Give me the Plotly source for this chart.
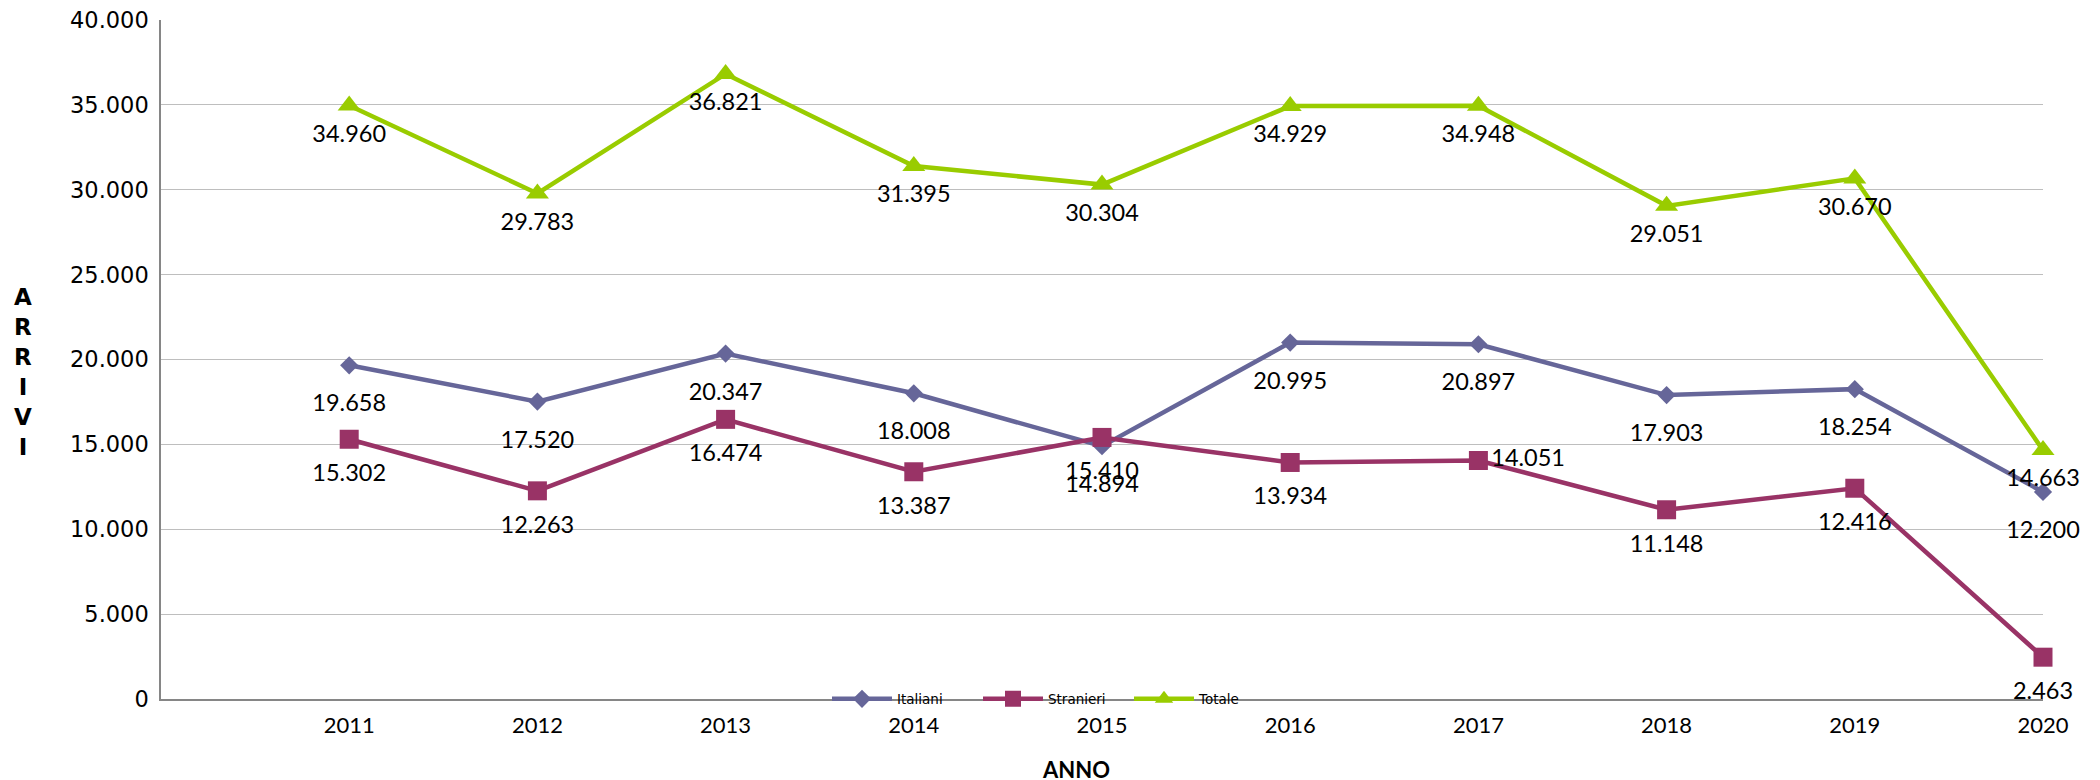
import plotly.graph_objects as go

years = [2011, 2012, 2013, 2014, 2015, 2016, 2017, 2018, 2019, 2020]
italiani = [19658, 17520, 20347, 18008, 14894, 20995, 20897, 17903, 18254, 12200]
stranieri = [15302, 12263, 16474, 13387, 15410, 13934, 14051, 11148, 12416, 2463]
totale = [34960, 29783, 36821, 31395, 30304, 34929, 34948, 29051, 30670, 14663]
y_ticks = [0, 5000, 10000, 15000, 20000, 25000, 30000, 35000, 40000]


def fmt(v):
    return f"{v:,}".replace(",", ".")


W, H = 2100, 780
OX, OY = 8, 8  # page body margin
# target plot area in page pixels
PL, PR, PT, PB = 161, 2043, 20, 699
L, T = PL - OX, PT - OY
R, B = W - (PR - OX), H - (PB - OY)
pw = PR - PL
ph = PB - PT


def px(x):
    return (x - PL) / pw


def py(y):
    return (PB - y) / ph


label_font = dict(family="Lato", size=23.5, color="#000000")

# name, values, colour, symbol, marker size, label spacer size
series = [
    ("Italiani", italiani, "#666699", "diamond", 14, 44),
    ("Stranieri", stranieri, "#993366", "square", 19, 37),
    ("Totale", totale, "#99CC00", "triangle-up", 20, 28),
]

fig = go.Figure()
for name, vals, color, sym, msize, _ in series:
    fig.add_trace(go.Scatter(
        x=years, y=vals, name=name, mode="lines+markers",
        line=dict(color=color, width=4.5),
        marker=dict(symbol=sym, size=msize, color=color, line=dict(width=0)),
        cliponaxis=False, hoverinfo="x+y",
    ))

for name, vals, color, sym, msize, spacer in series:
    pos = ["bottom center"] * len(vals)
    sizes = [spacer] * len(vals)
    if name == "Stranieri":
        i = years.index(2017)
        pos[i] = "middle right"
        sizes[i] = msize
    fig.add_trace(go.Scatter(
        x=years, y=vals, mode="markers+text", showlegend=False,
        marker=dict(size=sizes, color="rgba(0,0,0,0)", line=dict(width=0)),
        text=[fmt(v) for v in vals], textposition=pos,
        textfont=label_font, cliponaxis=False, hoverinfo="skip",
    ))

fig.update_layout(
    width=W, height=H,
    margin=dict(l=L, r=R, t=T, b=B, autoexpand=False),
    paper_bgcolor="white", plot_bgcolor="white",
    separators=",.",
    showlegend=True,
    legend=dict(orientation="h", x=px(827), xanchor="left",
                y=0, yanchor="middle", bgcolor="rgba(0,0,0,0)",
                font=dict(family="DejaVu Sans", size=13.5, color="#000000"),
                itemwidth=60, entrywidth=76, entrywidthmode="pixels",
                traceorder="normal"),
    xaxis=dict(range=[2010, 2020], tickvals=years, ticktext=[str(y) for y in years],
               showgrid=False, zeroline=False, showline=True, linecolor="#868686",
               linewidth=1.5, ticks="", ticklabelstandoff=6,
               tickfont=dict(family="Lato", size=22, color="#000000")),
    yaxis=dict(range=[0, 40000], tickvals=y_ticks, tickformat=",d",
               showgrid=True, gridcolor="#BEBEBE", gridwidth=1.3,
               zeroline=False, showline=True, linecolor="#868686", linewidth=1.5,
               ticks="", ticklabelstandoff=6, ticklabeloverflow="allow",
               tickfont=dict(family="DejaVu Sans", size=22.5, color="#000000")),
    annotations=[
        dict(text="<b>ANNO</b>", xref="paper", yref="paper",
             x=px(1076), y=py(769), xanchor="center", yanchor="middle",
             showarrow=False, font=dict(family="Lato", size=22, color="#000000")),
        dict(text="<b>A<br>R<br>R<br>I<br>V<br>I</b>", xref="paper", yref="paper",
             x=px(23), y=py(372), xanchor="center", yanchor="middle",
             showarrow=False, align="center",
             font=dict(family="DejaVu Sans", size=23, color="#000000")),
    ],
)

fig.write_html("out.html")
